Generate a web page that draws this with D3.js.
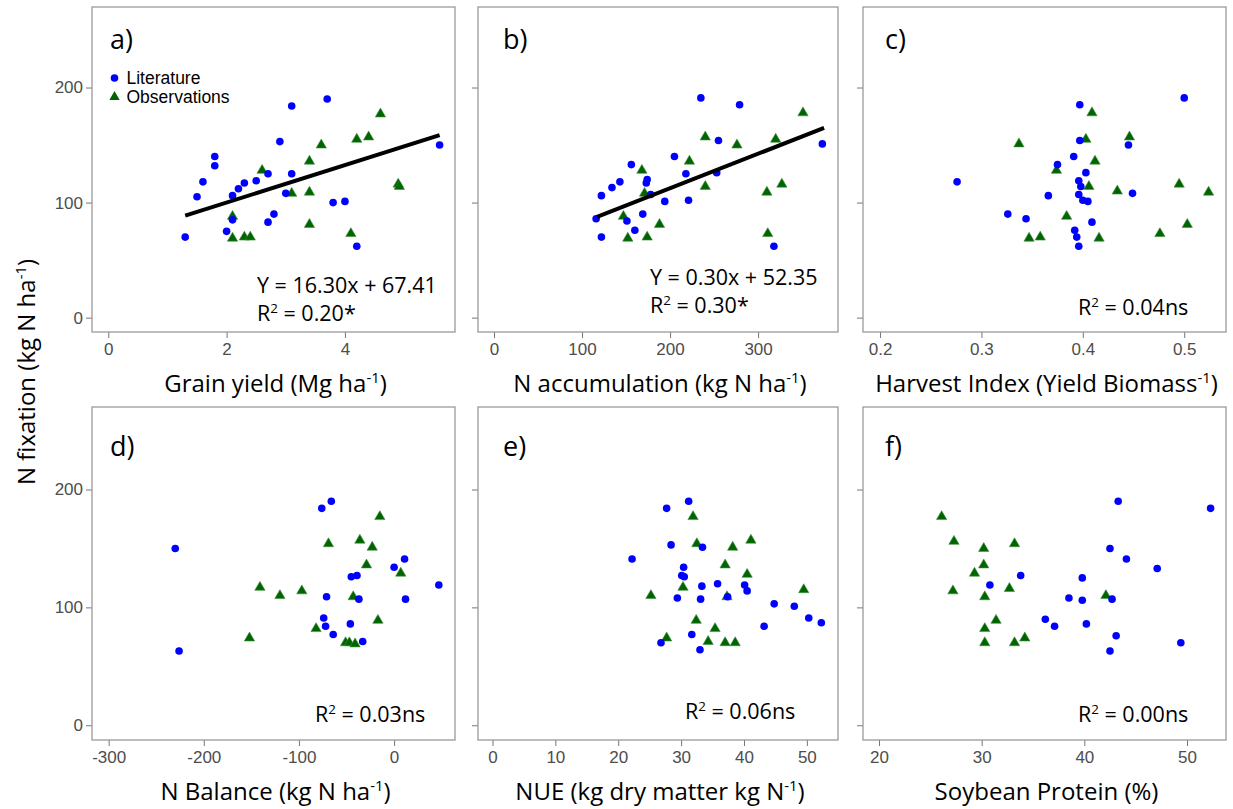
<!DOCTYPE html>
<html>
<head>
<meta charset="utf-8">
<script src="https://cdn.jsdelivr.net/npm/d3@7"></script>
<style>
  body { margin: 0; background: #fff; }
  svg { display: block; }
  text { white-space: pre; }
</style>
</head>
<body>
<svg width="1233" height="809"></svg>
<script>
// N fixation vs six crop variables: literature (blue dots) and observations (green triangles)

let y_ticks = [0, 100, 200]

// a) grain yield, Mg/ha
let lit_a = [[1.3,70],[1.5,105],[1.6,118],[1.8,140],[1.8,132],[2.1,106],[2.2,112],[2.3,117],[2.5,119],
  [2.7,125],[3.1,125],[2.9,153],[3.1,184],[3.7,190],[3.0,108],[2.1,85],[2.0,75],[2.7,83],[2.8,90],
  [3.8,100],[4.0,101],[4.2,62],[5.6,150]]
let obs_a = [[2.6,128],[2.1,88],[2.1,69],[2.3,70],[2.4,70],[3.1,108],[3.4,136],[3.4,109],[3.4,81],
  [3.6,150],[4.2,155],[4.4,157],[4.6,177],[4.1,73],[4.9,116],[4.92,114]]
let fit_a = [[1.3, 88.6], [5.6, 158.7]]
let ticks_a = [0, 2, 4]

// b) N accumulation, kg N/ha
let lit_b = [[116,86],[122,70],[122,106],[134,113],[143,118],[156,133],[151,84],[160,76],[169,90],
  [173,117],[174,120],[178,107],[194,101],[205,140],[218,125],[221,102],[235,191],[255,154],[253,126],
  [279,185],[318,62],[373,151]]
let obs_b = [[168,128],[171,108],[147,88],[152,69],[174,70],[188,81],[222,136],[240,157],[240,114],
  [276,150],[320,155],[351,178],[310,109],[327,116],[311,73]]
let fit_b = [[117, 87.5], [375, 164.9]]
let ticks_b = [0, 100, 200, 300]

// c) harvest index
let lit_c = [[0.276,118],[0.326,90],[0.344,86],[0.366,106],[0.375,133],[0.391,140],[0.397,185],
  [0.397,154],[0.403,126],[0.396,119],[0.398,114],[0.396,107],[0.400,102],[0.405,101],[0.409,83],
  [0.392,76],[0.394,70],[0.396,62],[0.445,150],[0.449,108],[0.500,191]]
let obs_c = [[0.337,151],[0.374,128],[0.384,88],[0.347,69],[0.358,70],[0.409,178],[0.403,155],
  [0.412,136],[0.406,114],[0.416,69],[0.446,157],[0.434,110],[0.476,73],[0.495,116],[0.503,81],[0.524,109]]
let ticks_c = [0.2, 0.3, 0.4, 0.5]

// d) N balance, kg N/ha
let lit_d = [[-230,150],[-226,63],[-76,184],[-66,190],[-71,109],[-74,91],[-72,84],[-64,77],[-45,126],
  [-39,127],[-37,107],[-46,86],[-33,71],[0,134],[11,141],[12,107],[47,119]]
let obs_d = [[-152,74],[-141,117],[-120,110],[-97,114],[-82,82],[-69,154],[-43,109],[-51,70],[-47,70],
  [-41,69],[-36,157],[-29,136],[-23,151],[-15,177],[-17,89],[7,129]]
let ticks_d = [-300, -200, -100, 0]

// e) NUE, kg dry matter per kg N
let lit_e = [[22.2,141],[27.7,184],[31.2,190],[28.4,153],[33.4,151],[30.4,134],[30.1,127],[30.5,126],
  [33.3,118],[35.8,120],[40.1,119],[40.5,114],[37.4,109],[29.4,108],[33.1,107],[44.8,103],[48,101],
  [50.3,91],[52.3,87],[43.2,84],[31.7,77],[26.8,70],[33,64]]
let obs_e = [[31.9,177],[32.5,154],[38.2,151],[41.1,157],[37,136],[40.5,128],[30.3,117],[25.2,110],
  [37.3,109],[49.5,115],[32.4,89],[35.4,82],[27.7,74],[34.3,71],[37,70],[38.6,70]]
let ticks_e = [0, 10, 20, 30, 40, 50]

// f) soybean protein, %
let lit_f = [[43.3,190],[52.3,184],[42.5,150],[44.1,141],[47.1,133],[33.8,127],[39.8,125],[30.8,119],
  [38.5,108],[39.8,106],[42.7,107],[36.2,90],[37.1,84],[40.2,86],[43.1,76],[42.5,63],[49.4,70]]
let obs_f = [[26.1,177],[27.3,156],[30.2,150],[33.2,154],[30.2,136],[29.3,129],[27.2,114],[32.7,116],
  [30.3,109],[42.1,110],[31.4,89],[30.3,82],[30.3,70],[33.2,70],[34.2,74]]
let ticks_f = [20, 30, 40, 50]

let series_names = ["Literature", "Observations"]

let cols = [[92, 455], [478, 838], [863, 1226]],
    rows = [[7, 332], [407, 740]],
    y_domain = [-12.5, 270],
    title_font = "'Open Sans', sans-serif",
    tick_font = "'Liberation Sans', Arial, sans-serif"

let panels = [
  {tag: "a)", col: 0, row: 0, lit: lit_a, obs: obs_a, fit: fit_a, ticks: ticks_a, x_domain: [-0.275, 5.86],
   title: "Grain yield (Mg ha^-1^)", notes: [["Y = 16.30x + 67.41", 257, 293], ["R^2^ = 0.20*", 257, 321]], legend: true},
  {tag: "b)", col: 1, row: 0, lit: lit_b, obs: obs_b, fit: fit_b, ticks: ticks_b, x_domain: [-18.2, 390.8],
   title: "N accumulation (kg N ha^-1^)", notes: [["Y = 0.30x + 52.35", 650, 285], ["R^2^ = 0.30*", 650, 313]]},
  {tag: "c)", col: 2, row: 0, lit: lit_c, obs: obs_c, ticks: ticks_c, x_domain: [0.1832, 0.5412],
   title: "Harvest Index (Yield Biomass^-1^)", notes: [["R^2^ = 0.04ns", 1078, 315]]},
  {tag: "d)", col: 0, row: 1, lit: lit_d, obs: obs_d, ticks: ticks_d, x_domain: [-317.5, 64],
   title: "N Balance (kg N ha^-1^)", notes: [["R^2^ = 0.03ns", 315, 722]]},
  {tag: "e)", col: 1, row: 1, lit: lit_e, obs: obs_e, ticks: ticks_e, x_domain: [-2.3, 54.95],
   title: "NUE (kg dry matter kg N^-1^)", notes: [["R^2^ = 0.06ns", 685, 719]]},
  {tag: "f)", col: 2, row: 1, lit: lit_f, obs: obs_f, ticks: ticks_f, x_domain: [18.44, 53.8],
   title: "Soybean Protein (%)", notes: [["R^2^ = 0.00ns", 1078, 722]]}
]

let blue = "#0000ff", green = "#006400"
let tri = d3.symbol().type(d3.symbolTriangle).size(46)

// "^..^" marks a superscript run
function rich_text(sel, str, size) {
  let up = size * 0.36
  str.split("^").forEach((part, i) => {
    if (part == "") return
    let t = sel.append("tspan").text(part)
    if (i % 2 == 1) t.attr("font-size", size * 0.62).attr("dy", -up)
    else if (i > 0) t.attr("dy", up)
  })
}

function draw_panel(svg, p) {
  let [x0, x1] = cols[p.col], [y0, y1] = rows[p.row]
  let x = d3.scaleLinear().domain(p.x_domain).range([x0, x1]),
      y = d3.scaleLinear().domain(y_domain).range([y1, y0])
  let g = svg.append("g")

  let xa = g.append("g").attr("transform", `translate(0,${y1})`)
    .call(d3.axisBottom(x).tickValues(p.ticks).tickSize(6).tickPadding(5).tickFormat(d => String(d)))
  let ya = g.append("g").attr("transform", `translate(${x0},0)`)
    .call(d3.axisLeft(y).tickValues(y_ticks).tickSize(6).tickPadding(3)
      .tickFormat(d => p.col == 0 ? String(d) : ""))
  ;[xa, ya].forEach(a => {
    a.select(".domain").remove()
    a.selectAll("line").attr("stroke", "#777")
    a.selectAll("text").attr("fill", "#4d4d4d").attr("font-size", 17).attr("font-family", tick_font)
  })

  g.append("rect")
    .attr("x", x0).attr("y", y0).attr("width", x1 - x0).attr("height", y1 - y0)
    .attr("fill", "none").attr("stroke", "#9a9a9a").attr("stroke-width", 1.3)

  g.append("text")
    .attr("x", [110, 503, 885][p.col]).attr("y", [49, 456][p.row])
    .attr("font-family", title_font).attr("font-size", 27).text(p.tag)

  g.selectAll("path.obs").data(p.obs).enter()
    .append("path").attr("class", "obs")
    .attr("d", tri)
    .attr("transform", d => `translate(${x(d[0])},${y(d[1])})`)
    .attr("fill", green).attr("stroke", "#3f8f3f").attr("stroke-width", 0.6)

  g.selectAll("circle.lit").data(p.lit).enter()
    .append("circle").attr("class", "lit")
    .attr("cx", d => x(d[0])).attr("cy", d => y(d[1])).attr("r", 3.8)
    .attr("fill", blue)

  if (p.fit) {
    g.append("path")
      .attr("d", d3.line().x(d => x(d[0])).y(d => y(d[1]))(p.fit))
      .attr("stroke", "#000").attr("stroke-width", 4).attr("fill", "none")
  }

  p.notes.forEach(n => {
    let t = g.append("text").attr("x", n[1]).attr("y", n[2])
      .attr("font-family", title_font).attr("font-size", 21.5)
    rich_text(t, n[0], 21.5)
  })

  let title = g.append("text")
    .attr("x", (x0 + x1) / 2 + 2).attr("y", y1 + 60)
    .attr("text-anchor", "middle").attr("font-family", title_font).attr("font-size", 24)
  rich_text(title, p.title, 24)

  if (p.legend) {
    let lg = g.append("g").attr("font-family", tick_font).attr("font-size", 17.5)
    lg.append("circle").attr("cx", 114.5).attr("cy", 78).attr("r", 3.8).attr("fill", blue)
    lg.append("path").attr("d", tri).attr("transform", "translate(114.5,97)").attr("fill", green)
    lg.append("text").attr("x", 126.5).attr("y", 84).text(series_names[0])
    lg.append("text").attr("x", 126.5).attr("y", 103).text(series_names[1])
  }
}

let svg = d3.select("svg")
svg.append("rect").attr("width", 1233).attr("height", 809).attr("fill", "#fff")
panels.forEach(p => draw_panel(svg, p))

let ylab = svg.append("text")
  .attr("transform", "translate(35,372) rotate(-90)")
  .attr("text-anchor", "middle").attr("font-family", title_font).attr("font-size", 24)
rich_text(ylab, "N fixation (kg N ha^-1^)", 24)
</script>
</body>
</html>
